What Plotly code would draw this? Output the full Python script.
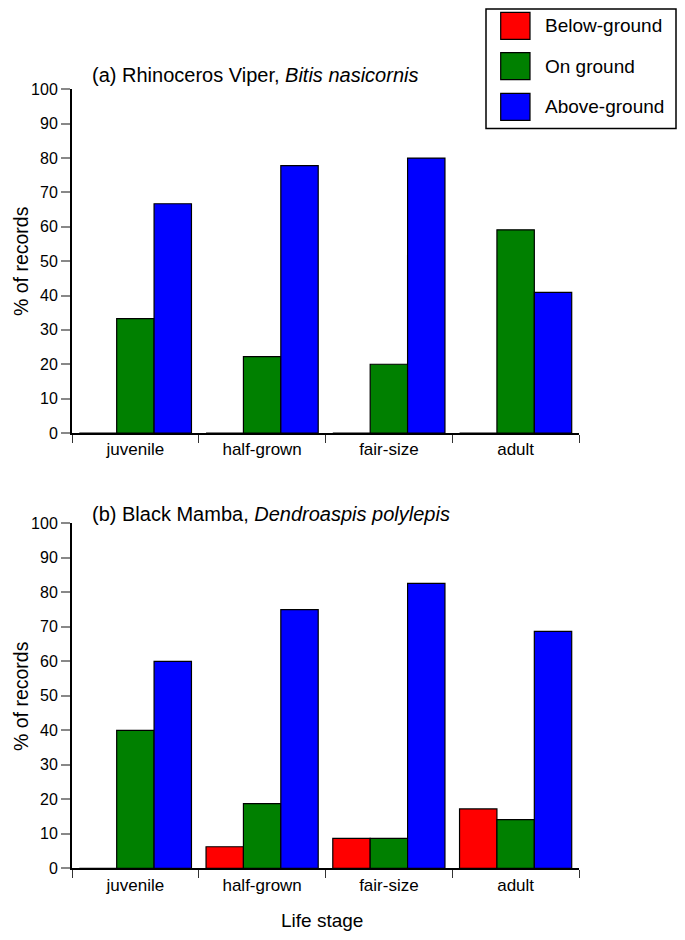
import plotly.graph_objects as go

# Page body has an 8px margin; keep the figure inside the 685x940 window.
OX, OY = 8, 8
W, H = 685 - 2 * OX, 940 - 2 * OY

stages = ["juvenile", "half-grown", "fair-size", "adult"]
series_names = ["Below-ground", "On ground", "Above-ground"]
colors = ["#ff0000", "#008000", "#0000ff"]

# (a) Rhinoceros Viper
viper_below = [0, 0, 0, 0]
viper_on = [33.3, 22.2, 20.0, 59.1]
viper_above = [66.7, 77.8, 80.0, 40.9]

# (b) Black Mamba
mamba_below = [0, 6.25, 8.7, 17.2]
mamba_on = [40.0, 18.75, 8.7, 14.1]
mamba_above = [60.0, 75.0, 82.6, 68.7]

y_ticks = list(range(0, 101, 10))

FONT = "Liberation Sans, Arial, Helvetica, sans-serif"

def px_x(x):
    return (x - OX) / W

def px_y(y):
    return 1 - (y - OY) / H

fig = go.Figure()

for vals, name, col in zip([viper_below, viper_on, viper_above], series_names, colors):
    fig.add_trace(go.Bar(x=stages, y=vals, name=name, marker=dict(color=col, line=dict(color="black", width=1.2)),
                         xaxis="x", yaxis="y", showlegend=False))
for vals, name, col in zip([mamba_below, mamba_on, mamba_above], series_names, colors):
    fig.add_trace(go.Bar(x=stages, y=vals, name=name, marker=dict(color=col, line=dict(color="black", width=1.2)),
                         xaxis="x2", yaxis="y2", showlegend=False))

xdom = [px_x(72), px_x(579)]
ydom1 = [px_y(433), px_y(89.3)]
ydom2 = [px_y(868.3), px_y(523.3)]

xaxis_common = dict(
    domain=xdom, type="category", tickson="boundaries", ticks="outside", ticklen=8,
    tickwidth=1.2, tickcolor="#333333", showline=True, linecolor="black", linewidth=2,
    showgrid=False, zeroline=False, tickfont=dict(family=FONT, size=17, color="black"),
    categoryorder="array", categoryarray=stages, automargin=False,
)
yaxis_common = dict(
    range=[0, 100], tickmode="array", tickvals=y_ticks, ticks="outside", ticklen=9,
    tickwidth=1.5, tickcolor="#888888", showline=True, linecolor="black", linewidth=2,
    showgrid=False, zeroline=False, tickfont=dict(family=FONT, size=16, color="black"),
    automargin=False,
)

fig.update_layout(
    template="none",
    width=W, height=H, margin=dict(l=0, r=0, t=0, b=0, pad=0, autoexpand=False),
    paper_bgcolor="white", plot_bgcolor="white",
    barmode="group", bargap=0.115, bargroupgap=0,
    font=dict(family=FONT, color="black"),
    xaxis=dict(xaxis_common, anchor="y"),
    yaxis=dict(yaxis_common, domain=ydom1, anchor="x"),
    xaxis2=dict(xaxis_common, anchor="y2"),
    yaxis2=dict(yaxis_common, domain=ydom2, anchor="x2"),
    showlegend=False,
)

annotations = [
    dict(text="(a) Rhinoceros Viper, <i>Bitis nasicornis</i>", x=px_x(90), y=px_y(75),
         xanchor="left", yanchor="middle", font=dict(size=20)),
    dict(text="(b) Black Mamba, <i>Dendroaspis polylepis</i>", x=px_x(90), y=px_y(514),
         xanchor="left", yanchor="middle", font=dict(size=20)),
    dict(text="% of records", x=px_x(8), y=px_y(261), textangle=-90,
         xanchor="left", yanchor="middle", font=dict(size=19.5)),
    dict(text="% of records", x=px_x(8), y=px_y(696), textangle=-90,
         xanchor="left", yanchor="middle", font=dict(size=19.5)),
    dict(text="Life stage", x=px_x(322), y=px_y(920), xanchor="center", yanchor="middle",
         font=dict(size=19)),
]

shapes = [dict(type="rect", xref="paper", yref="paper", x0=px_x(486), x1=px_x(676),
               y0=px_y(128.5), y1=px_y(9), line=dict(color="black", width=1.5), fillcolor="white")]
sw_tops = [12.3, 52.7, 93.3]
for top, name, col in zip(sw_tops, series_names, colors):
    shapes.append(dict(type="rect", xref="paper", yref="paper", x0=px_x(500.7), x1=px_x(530),
                       y0=px_y(top + 27), y1=px_y(top), fillcolor=col,
                       line=dict(color="black", width=1.2)))
    annotations.append(dict(text=name, x=px_x(543), y=px_y(top + 13.5), xanchor="left",
                            yanchor="middle", font=dict(size=19)))

for a in annotations:
    a.update(xref="paper", yref="paper", showarrow=False)
    a["font"] = dict(a["font"], family=FONT, color="black")

fig.update_layout(annotations=annotations, shapes=shapes)

fig.write_html("out.html")
